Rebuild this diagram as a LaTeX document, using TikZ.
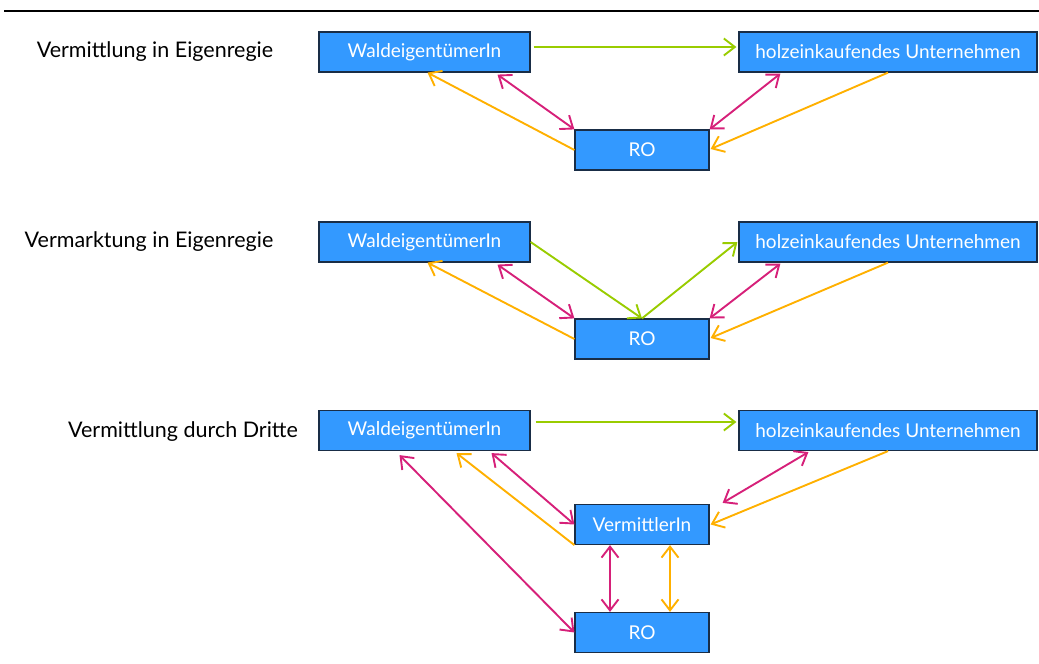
\documentclass[tikz,border=0pt]{standalone}
\usepackage{fontspec}
\setmainfont{Lato}
\usetikzlibrary{arrows.meta}
\definecolor{boxfill}{RGB}{51,153,255}
\definecolor{boxline}{RGB}{25,45,70}
\definecolor{cgreen}{RGB}{153,204,0}
\definecolor{cmag}{RGB}{214,32,121}
\definecolor{corange}{RGB}{255,176,0}
\tikzset{
  actor/.style={draw=boxline, line width=1.2pt, fill=boxfill, text=white, inner sep=0pt,
    minimum height=40pt, font=\fontsize{19}{22}\selectfont},
  wald/.style={actor, minimum width=211pt},
  holz/.style={actor, minimum width=298pt},
  ro/.style={actor, minimum width=134pt},
  rowlabel/.style={inner sep=0pt, font=\fontsize{21.5}{25}\selectfont},
  conn/.style={line width=1.9pt},
  tip/.style={-{Straight Barb[length=11pt,width=17pt]}},
  both/.style={{Straight Barb[length=11pt,width=17pt]}-{Straight Barb[length=11pt,width=17pt]}},
  gr/.style={conn, draw=cgreen},
  mg/.style={conn, draw=cmag},
  og/.style={conn, draw=corange},
}
\begin{document}
\begin{tikzpicture}[x=1pt,y=-1pt]
\useasboundingbox (0,0) rectangle (1039,664);
\draw[line width=2.7pt] (4,11) -- (1039,11);

% labels
\node[rowlabel] (l1) at (155,52) {Vermittlung in Eigenregie};
\node[rowlabel] (l2) at (149,242) {Vermarktung in Eigenregie};
\node[rowlabel] (l3) at (183,432) {Vermittlung durch Dritte};

% row 1
\node[wald] (w1) at (424.5,52) {WaldeigentümerIn};
\node[holz] (h1) at (888,52) {holzeinkaufendes Unternehmen};
\node[ro] (r1) at (642,150) {RO};
\draw[gr,tip] ([xshift=3pt,yshift=5pt]w1.east) -- ([xshift=-2pt,yshift=5pt]h1.west);
\draw[og,tip] (r1.west) -- ([xshift=3pt]w1.south);
\draw[mg,both] ([xshift=73pt,yshift=-2pt]w1.south) -- (r1.north west);
\draw[mg,both] (r1.north east) -- ([xshift=42pt,yshift=-1pt]h1.south west);
\draw[og,tip] (h1.south) -- ([xshift=1pt,yshift=1pt]r1.east);

% row 2
\node[wald] (w2) at (424.5,242) {WaldeigentümerIn};
\node[holz] (h2) at (888,242) {holzeinkaufendes Unternehmen};
\node[ro] (r2) at (642,339) {RO};
\draw[gr,tip] (w2.east) -- (r2.north);
\draw[gr,tip] (r2.north) -- ([xshift=-1pt]h2.west);
\draw[og,tip] (r2.west) -- ([xshift=3pt]w2.south);
\draw[mg,both] ([xshift=73pt,yshift=-2pt]w2.south) -- (r2.north west);
\draw[mg,both] (r2.north east) -- ([xshift=42pt,yshift=-1pt]h2.south west);
\draw[og,tip] (h2.south) -- ([xshift=1pt,yshift=1pt]r2.east);

% row 3
\node[wald] (w3) at (424.5,430.5) {WaldeigentümerIn};
\node[holz] (h3) at (888,430.5) {holzeinkaufendes Unternehmen};
\node[ro] (v3) at (642,524.5) {VermittlerIn};
\node[ro] (r3) at (642,632.5) {RO};
\draw[gr,tip] ([xshift=5pt,yshift=8.5pt]w3.east) -- ([xshift=-2pt,yshift=8.5pt]h3.west);
\draw[mg,both] ([xshift=67pt,yshift=-2pt]w3.south) -- (v3.west);
\draw[og,tip] (v3.south west) -- ([xshift=32pt,yshift=-2pt]w3.south);
\draw[mg,both] ([xshift=-25pt,yshift=-4pt]w3.south) -- (r3.west);
\draw[mg,both] ([xshift=-32pt]v3.south) -- ([xshift=-32pt]r3.north);
\draw[og,both] ([xshift=28pt]v3.south) -- ([xshift=28pt]r3.north);
\draw[mg,both] ([xshift=70pt,yshift=-1pt]h3.south west) -- ([xshift=13pt,yshift=1pt]v3.north east);
\draw[og,tip] (h3.south) -- ([xshift=1pt]v3.east);
\end{tikzpicture}
\end{document}
